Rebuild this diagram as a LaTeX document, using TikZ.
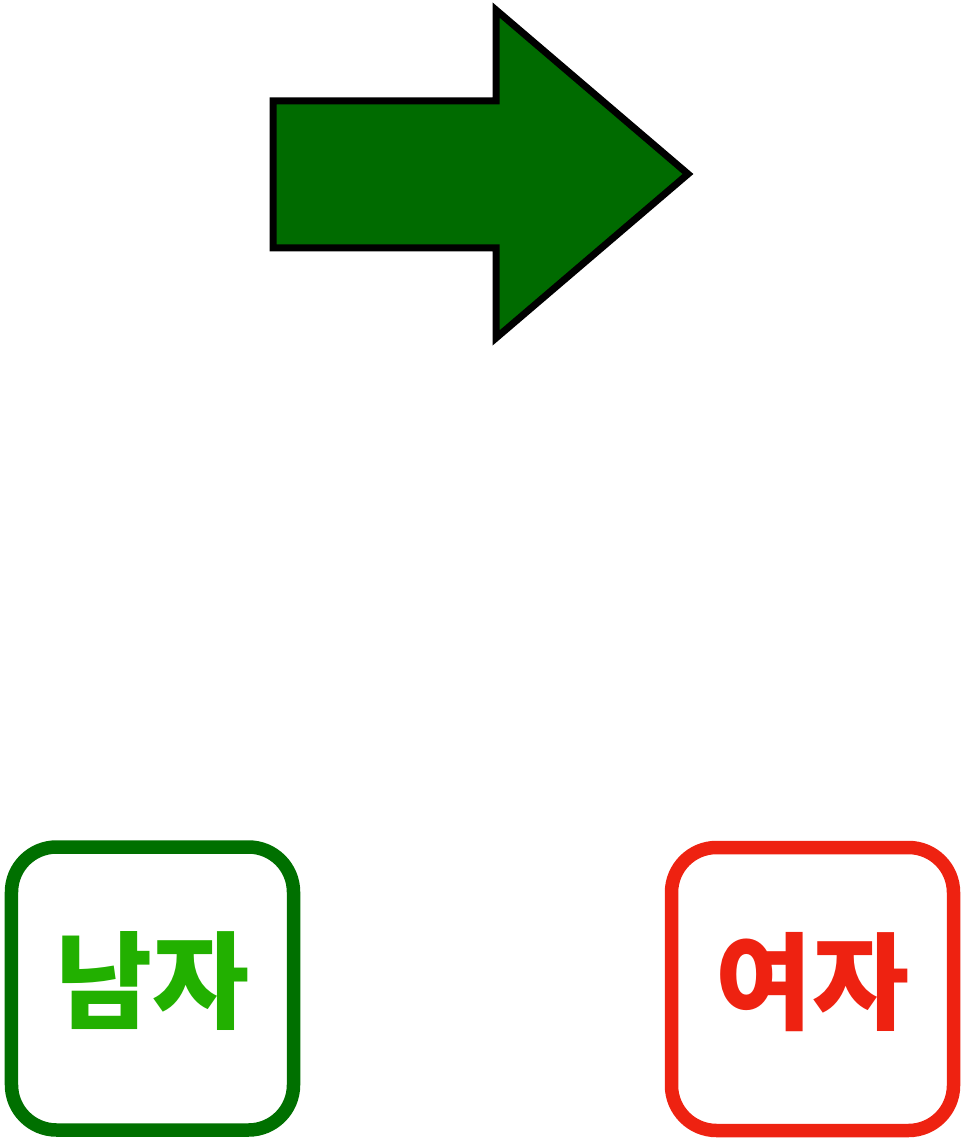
\documentclass[tikz,border=0pt]{standalone}
\usepackage{fontspec}
\newfontfamily\kofont{Noto Sans CJK KR}
\usepackage{tikz}
\definecolor{arrowgreen}{RGB}{0,107,0}
\definecolor{boxgreen}{RGB}{0,112,0}
\definecolor{textgreen}{RGB}{34,176,0}
\definecolor{boxred}{RGB}{238,34,17}
\tikzset{
	card/.style={draw,rounded corners=0.45cm,line width=0.135cm,minimum width=2.82cm,minimum height=2.83cm,inner sep=0pt,text height=0.9cm,text depth=0.26cm,font=\kofont\bfseries\fontsize{30}{30}\selectfont}
}
\begin{document}
\begin{tikzpicture}
		\useasboundingbox (0,0) rectangle (9.67,-11.41);
		%put the big arrow on top
		\draw[line width=0.07cm,fill=arrowgreen,line join=miter] (2.73,-1.01) -- (4.96,-1.01) -- (4.96,-0.10) -- (6.88,-1.74) -- (4.96,-3.38) -- (4.96,-2.48) -- (2.73,-2.48) -- cycle;
		%put the two cards at the bottom
		\node[card,draw=boxgreen,text=textgreen] (man) at (1.525,-9.885) {남자};
		\node[card,draw=boxred,text=boxred] (woman) at (8.125,-9.89) {여자};
\end{tikzpicture}
\end{document}
